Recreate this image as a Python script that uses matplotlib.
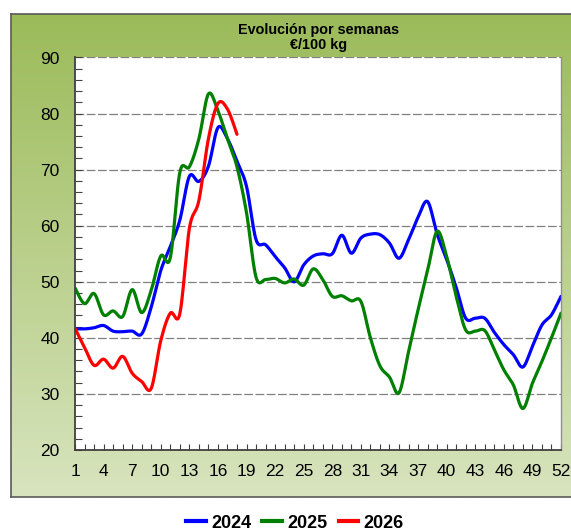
import numpy as np
import matplotlib
matplotlib.use("Agg")
import matplotlib.pyplot as plt
from matplotlib.ticker import MultipleLocator, FixedLocator
from matplotlib.lines import Line2D

plt.rcParams['font.family'] = ['Liberation Sans', 'DejaVu Sans']

# weekly prices, EUR/100 kg
weeks_2024 = list(range(1, 53))
price_2024 = [41.6, 41.6, 41.8, 42.2, 41.2, 41.1, 41.2, 40.7, 45.5, 52.0,
              56.3, 61.0, 68.8, 67.9, 70.6, 77.5, 75.5, 71.5, 67.0, 57.5,
              56.6, 54.5, 52.5, 50.0, 53.0, 54.6, 55.0, 55.0, 58.3, 55.1,
              57.8, 58.5, 58.4, 56.9, 54.2, 57.5, 61.5, 64.3, 58.5, 54.0,
              49.0, 43.5, 43.5, 43.5, 41.0, 38.8, 37.0, 34.8, 38.5, 42.3,
              44.1, 47.4]

weeks_2025 = list(range(1, 53))
price_2025 = [48.9, 46.1, 47.9, 44.1, 44.8, 43.8, 48.6, 44.5, 48.5, 54.6,
              54.3, 69.5, 70.5, 75.5, 83.5, 80.5, 75.5, 70.5, 62.3, 50.8,
              50.4, 50.6, 49.8, 50.5, 49.4, 52.3, 50.4, 47.4, 47.5, 46.6,
              46.5, 40.0, 35.0, 33.0, 30.2, 37.5, 45.0, 52.0, 59.0, 54.5,
              47.4, 41.4, 41.2, 41.3, 37.9, 34.3, 31.6, 27.4, 31.9, 35.8,
              40.0, 44.4]

weeks_2026 = list(range(1, 19))
price_2026 = [41.7, 38.3, 35.1, 36.2, 34.6, 36.7, 33.7, 32.2, 31.0, 39.5,
              44.4, 44.3, 59.5, 64.5, 75.5, 81.8, 80.8, 76.3]

series = [("2024", weeks_2024, price_2024, "#0000FF"),
          ("2025", weeks_2025, price_2025, "#008000"),
          ("2026", weeks_2026, price_2026, "#FF0000")]


def smooth(x, y, n=20):
    # Excel-like smoothed line (Catmull-Rom bezier), for drawing only
    x = np.asarray(x, float)
    y = np.asarray(y, float)
    px = np.concatenate([[x[0]], x, [x[-1]]])
    py = np.concatenate([[y[0]], y, [y[-1]]])
    xs, ys = [], []
    t = np.linspace(0, 1, n, endpoint=False)
    for i in range(1, len(px) - 2):
        p0, p1, p2, p3 = px[i - 1], px[i], px[i + 1], px[i + 2]
        q0, q1, q2, q3 = py[i - 1], py[i], py[i + 1], py[i + 2]
        c1x, c1y = p1 + (p2 - p0) / 6, q1 + (q2 - q0) / 6
        c2x, c2y = p2 - (p3 - p1) / 6, q2 - (q3 - q1) / 6
        b0, b1, b2, b3 = (1 - t) ** 3, 3 * (1 - t) ** 2 * t, 3 * (1 - t) * t ** 2, t ** 3
        xs.append(b0 * p1 + b1 * c1x + b2 * c2x + b3 * p2)
        ys.append(b0 * q1 + b1 * c1y + b2 * c2y + b3 * q2)
    xs.append([x[-1]])
    ys.append([y[-1]])
    return np.concatenate(xs), np.concatenate(ys)


W, H = 571, 531
fig = plt.figure(figsize=(W / 100, H / 100), dpi=100)

# green gradient panel behind the chart
bg = fig.add_axes([11 / W, 1 - 497 / H, (620 - 11) / W, (497 - 14) / H])
top = np.array([155, 187, 89]) / 255
bot = np.array([216, 228, 190]) / 255
grad = np.linspace(0, 1, 256)[:, None]
img = top[None, None, :] * (1 - grad[..., None]) + bot[None, None, :] * grad[..., None]
bg.imshow(img, aspect='auto', extent=[0, 1, 0, 1])
bg.set_xticks([])
bg.set_yticks([])
for s in bg.spines.values():
    s.set_color('#5a5a5a')
    s.set_linewidth(1.2)

ax = fig.add_axes([75 / W, 1 - 450 / H, (561 - 75) / W, (450 - 57.5) / H])
ax.set_facecolor('white')

for label, wk, val, col in series:
    sx, sy = smooth(wk, val)
    ax.plot(sx, sy, color=col, lw=2.3, solid_capstyle='round')

ax.set_xlim(1, 52)
ax.set_ylim(20, 90)
ax.xaxis.set_major_locator(FixedLocator(list(range(1, 53, 3))))
ax.xaxis.set_minor_locator(MultipleLocator(1))
ax.yaxis.set_major_locator(MultipleLocator(10))
ax.yaxis.set_minor_locator(MultipleLocator(2))
ax.tick_params(axis='both', which='both', direction='in', color='#404040', width=0.8)
ax.tick_params(axis='y', which='both', length=5, pad=11, labelsize=12.5)
ax.tick_params(axis='x', which='both', length=4, pad=10, labelsize=12.5)
ax.yaxis.grid(True, which='major', color='#808080', lw=0.9, linestyle=(0, (7, 2)))
ax.set_axisbelow(True)

ax.spines['left'].set_color('#404040')
ax.spines['bottom'].set_color('#404040')
ax.spines['left'].set_linewidth(1.3)
ax.spines['bottom'].set_linewidth(1.3)
ax.spines['top'].set_visible(False)
ax.spines['right'].set_color('#909090')
ax.spines['right'].set_linewidth(1.0)

fig.text(319 / W, 1 - 30 / H, "Evolución por semanas", ha='center', va='center',
         fontsize=10.4, fontweight='bold')
fig.text(319 / W, 1 - 45.5 / H, "€/100 kg", ha='center', va='center',
         fontsize=10.4, fontweight='bold')

handles = [Line2D([0], [0], color=c, lw=3) for _, _, _, c in series]
fig.legend(handles, [s[0] for s in series], loc='center', ncol=3,
           bbox_to_anchor=(295 / W, 1 - 523 / H), frameon=False,
           handlelength=1.1, handletextpad=0.3, columnspacing=0.6,
           prop={'weight': 'bold', 'size': 13})

fig.savefig("out.png", dpi=100)
